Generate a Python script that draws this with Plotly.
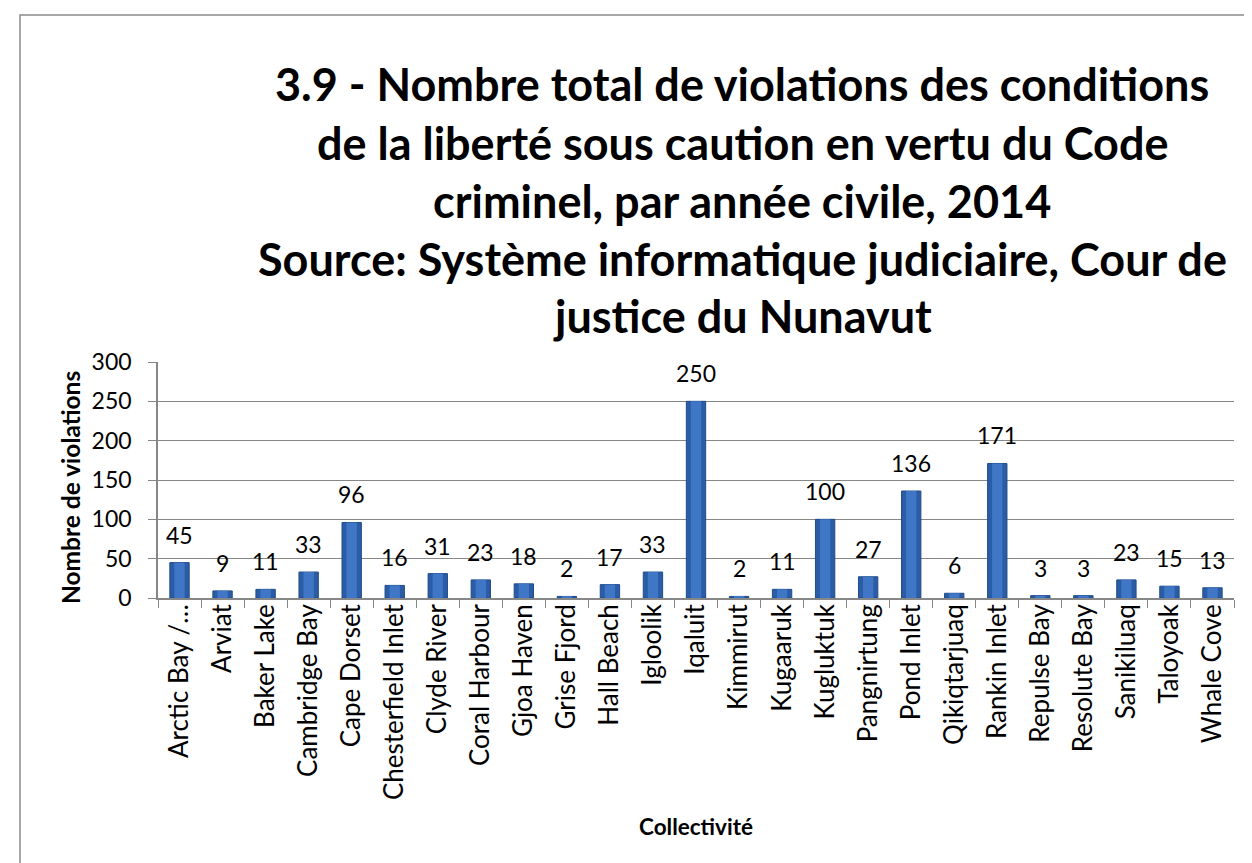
import plotly.graph_objects as go

categories = ["Arctic Bay /…", "Arviat", "Baker Lake", "Cambridge Bay", "Cape Dorset",
              "Chesterfield Inlet", "Clyde River", "Coral Harbour", "Gjoa Haven", "Grise Fjord",
              "Hall Beach", "Igloolik", "Iqaluit", "Kimmirut", "Kugaaruk", "Kugluktuk",
              "Pangnirtung", "Pond Inlet", "Qikiqtarjuaq", "Rankin Inlet", "Repulse Bay",
              "Resolute Bay", "Sanikiluaq", "Taloyoak", "Whale Cove"]
violations = [45, 9, 11, 33, 96, 16, 31, 23, 18, 2, 17, 33, 250, 2, 11, 100, 27, 136, 6, 171,
              3, 3, 23, 15, 13]
y_ticks = [0, 50, 100, 150, 200, 250, 300]
title_lines = ["3.9 - Nombre total de violations des conditions",
               "de la liberté sous caution en vertu du Code",
               "criminel, par année civile, 2014",
               "Source: Système informatique judiciaire, Cour de",
               "justice du Nunavut"]

FONT = "Lato"
W, H = 1252, 863
L, R, T, B = 150, 26, 354, 273
PH = H - T - B
PW = W - L - R

def py(p):  # pixel y -> paper y
    return (H - B - p) / PH

def px(p):
    return (p - L) / PW

fig = go.Figure()
# bar body (darker edges)
fig.add_trace(go.Bar(
    x=categories, y=violations, width=0.45,
    marker=dict(color="#2B5CA6", line=dict(color="#1F4C8A", width=1)),
    hoverinfo="x+y",
))
# lighter centre to mimic the bevelled look
fig.add_trace(go.Bar(
    x=categories, y=violations, width=0.24,
    marker=dict(color="#3F77C6", line=dict(width=0)),
    hoverinfo="skip",
))

annotations = []
for c, v in zip(categories, violations):
    annotations.append(dict(x=c, y=v, xref="x", yref="y", text=str(v), showarrow=False,
                            yanchor="bottom", yshift=12,
                            font=dict(family=FONT, size=23, color="black")))

title_centers = [76, 135, 193, 251, 308]
for line, cy in zip(title_lines, title_centers):
    annotations.append(dict(x=px(734), y=py(cy), xref="paper", yref="paper", text=f"<b>{line}</b>",
                            showarrow=False, xanchor="center", yanchor="middle",
                            font=dict(family=FONT, size=45, color="black")))

annotations.append(dict(x=px(62), y=py(480), xref="paper", yref="paper",
                        text="<b>Nombre de violations</b>", textangle=-90, showarrow=False,
                        xanchor="center", yanchor="middle",
                        font=dict(family=FONT, size=24.5, color="black")))
annotations.append(dict(x=px(688), y=py(818), xref="paper", yref="paper",
                        text="<b>Collectivité</b>", showarrow=False,
                        xanchor="center", yanchor="middle",
                        font=dict(family=FONT, size=22.5, color="black")))

fig.update_layout(
    width=W, height=H,
    margin=dict(l=L, r=R, t=T, b=B),
    paper_bgcolor="white", plot_bgcolor="white",
    showlegend=False, barmode="overlay",
    annotations=annotations,
    shapes=[dict(type="rect", xref="paper", yref="paper",
                 x0=px(12), x1=px(1245), y0=py(1000), y1=py(7),
                 line=dict(color="#8A8A8A", width=1.5), layer="below")],
    font=dict(family=FONT, size=23, color="black"),
)
fig.update_xaxes(
    type="category", tickangle=-90, ticks="outside", tickson="boundaries", ticklen=8,
    tickcolor="#878787", showline=True, linecolor="#878787", linewidth=1.5,
    showgrid=False, tickfont=dict(family=FONT, size=26, color="black"),
    ticklabelstandoff=-6,
)
fig.update_yaxes(
    range=[0, 300], tickvals=y_ticks, ticks="outside", ticklen=8, tickcolor="#878787",
    showline=True, linecolor="#878787", linewidth=1.5,
    showgrid=True, gridcolor="#878787", gridwidth=1.3, zeroline=False,
    tickfont=dict(family=FONT, size=23, color="black"),
    ticklabelstandoff=12,
)

fig.write_html("out.html")
